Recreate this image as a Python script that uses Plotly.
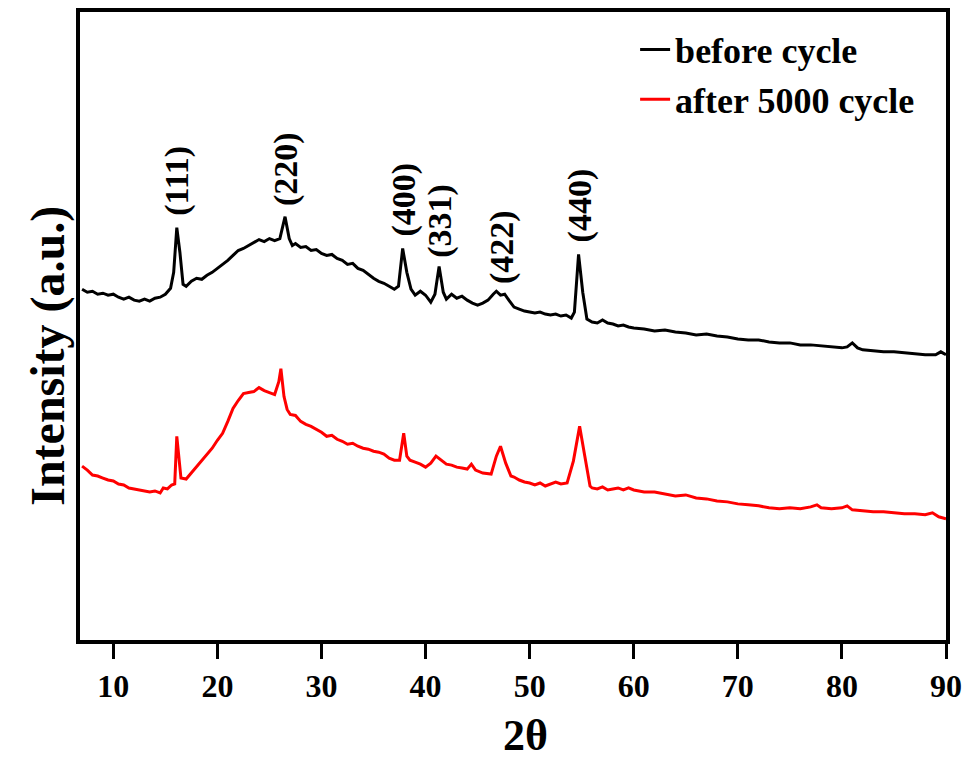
import plotly.graph_objects as go

# ---- data (2θ in degrees, intensity in arbitrary units) ----
before_x = [7.0, 7.5, 8.0, 8.5, 9.0, 9.5, 10.0, 10.5, 11.0, 11.5, 12.0, 12.5, 13.0, 13.5, 14.0, 14.5,
            15.0, 15.5, 15.8, 16.1, 16.4, 16.7, 17.0, 17.5, 18.0, 18.5, 19.0, 19.5, 20.0, 20.5, 21.0,
            21.5, 22.0, 22.5, 23.0, 23.5, 24.0, 24.5, 25.0, 25.5, 26.0, 26.5, 26.9, 27.2, 27.5, 28.0,
            28.5, 29.0, 29.5, 30.0, 30.5, 31.0, 31.5, 32.0, 32.5, 33.0, 33.5, 34.0, 34.5, 35.0, 35.5,
            36.0, 36.5, 37.0, 37.4, 37.8, 38.2, 38.6, 39.0, 39.5, 40.0, 40.5, 40.9, 41.3, 41.7, 42.0,
            42.5, 43.0, 43.5, 44.0, 44.5, 45.0, 45.5, 46.0, 46.5, 46.8, 47.2, 47.6, 48.0, 48.5, 49.0,
            49.5, 50.0, 50.5, 51.0, 51.5, 52.0, 52.5, 53.0, 53.5, 54.0, 54.3, 54.7, 55.1, 55.5, 56.0,
            56.5, 57.0, 57.5, 58.0, 58.5, 59.0, 59.5, 60.0, 61, 62, 63, 64, 65, 66, 67, 68, 69, 70,
            71, 72, 73, 74, 75, 76, 77, 78, 79, 80, 80.5, 81.0, 81.5, 82, 83, 84, 85, 86, 87, 88, 89,
            89.5, 90]
before_y = [353, 350, 351, 348, 349, 347, 348, 345, 343, 345, 342, 341, 343, 341, 344, 345,
            348, 354, 370, 415, 390, 358, 356, 361, 364, 363, 367, 370, 374, 378, 382,
            387, 392, 394, 397, 400, 403, 401, 404, 402, 404, 426, 404, 397, 399, 395,
            396, 392, 393, 389, 387, 388, 384, 382, 378, 379, 374, 372, 368, 364, 361,
            359, 356, 353, 356, 394, 370, 353, 347, 351, 347, 340, 348, 376, 350, 343,
            348, 344, 346, 342, 339, 337, 339, 342, 348, 351, 347, 348, 342, 335, 333,
            331, 330, 329, 330, 328, 327, 328, 326, 327, 324, 330, 388, 350, 323, 320,
            319, 322, 319, 318, 316, 317, 315, 314, 313, 311, 312, 310, 309, 307, 308, 306, 305, 303,
            302, 302, 300, 299, 299, 297, 297, 296, 295, 294, 295, 299, 294, 292, 291, 290, 290, 289,
            288, 287, 287, 290, 287]

after_x = [7.0, 7.5, 8.0, 8.5, 9.0, 9.5, 10.0, 10.5, 11.0, 11.5, 12.0, 12.5, 13.0, 13.5, 14.0, 14.5,
           14.8, 15.2, 15.6, 15.9, 16.1, 16.3, 16.5, 17.0, 17.5, 18.0, 18.5, 19.0, 19.5, 20.0, 20.5,
           21.0, 21.5, 22.0, 22.5, 23.0, 23.5, 24.0, 24.5, 25.0, 25.5, 25.9, 26.1, 26.4, 26.7, 27.0,
           27.5, 28.0, 28.5, 29.0, 29.5, 30.0, 30.5, 31.0, 31.5, 32.0, 32.5, 33.0, 33.5, 34.0, 34.5,
           35.0, 35.5, 36.0, 36.5, 37.0, 37.5, 37.9, 38.2, 38.5, 39.0, 39.5, 40.0, 40.5, 41.0, 41.5,
           42.0, 42.5, 43.0, 43.5, 44.0, 44.4, 44.8, 45.5, 46.3, 46.8, 47.2, 47.7, 48.2, 48.5, 49.0,
           49.5, 50.0, 50.5, 51.0, 51.5, 52.0, 52.5, 53.0, 53.6, 54.2, 54.8, 55.3, 55.8, 56.0, 56.5,
           57.0, 57.5, 58.0, 58.5, 59.0, 59.5, 60.0, 61, 62, 63, 64, 65, 66, 67, 68, 69, 70, 71, 72,
           73, 74, 75, 76, 77, 77.6, 78, 79, 80, 80.5, 81, 82, 83, 84, 85, 86, 87, 88, 88.7, 89.3, 90]
after_y = [175, 171, 166, 165, 163, 161, 160, 157, 156, 153, 152, 151, 150, 149, 150, 148,
           153, 152, 156, 157, 205, 180, 163, 162, 168, 175, 180, 187, 193, 201, 208,
           220, 233, 241, 248, 249, 250, 254, 251, 249, 247, 260, 273, 245, 232, 227,
           226, 220, 217, 215, 212, 209, 205, 206, 202, 200, 197, 198, 195, 193, 192,
           190, 189, 187, 183, 181, 181, 208, 185, 181, 179, 177, 174, 178, 185, 181,
           177, 176, 174, 173, 172, 177, 171, 168, 167, 185, 195, 178, 165, 164, 161,
           159, 158, 156, 158, 155, 157, 159, 157, 158, 180, 215, 185, 155, 153, 152,
           154, 151, 152, 153, 151, 153, 151, 149, 149, 147, 145, 146, 143, 142, 140, 139, 137, 136, 135,
           133, 132, 133, 132, 134, 136, 133, 132, 133, 135, 131, 130, 129, 129, 128, 127, 127, 126, 128, 124, 122]

peak_labels = ["(111)", "(220)", "(400)", "(331)", "(422)", "(440)"]
peak_label_x = [16.1, 26.6, 37.9, 41.4, 47.3, 54.8]
peak_label_y = [462, 474, 443, 422, 395, 437]

x_ticks = [10, 20, 30, 40, 50, 60, 70, 80, 90]

FONT = "Liberation Serif"

fig = go.Figure()
fig.add_trace(go.Scatter(x=before_x, y=before_y, mode="lines", name="<b>before cycle</b>",
                         line=dict(color="#000000", width=3)))
fig.add_trace(go.Scatter(x=after_x, y=after_y, mode="lines", name="<b>after 5000 cycle</b>",
                         line=dict(color="#ff0000", width=3)))

for t, px, py in zip(peak_labels, peak_label_x, peak_label_y):
    fig.add_annotation(x=px, y=py, xref="x", yref="y", text="<b>%s</b>" % t, textangle=-90,
                       xanchor="center", yanchor="middle",
                       showarrow=False, font=dict(family=FONT, size=34, color="#000000"))

# axis titles
fig.add_annotation(x=-0.037, y=0.4525, xref="paper", yref="paper", text="<b>Intensity (a.u.)</b>",
                   textangle=-90, xanchor="center", yanchor="middle",
                   showarrow=False, font=dict(family=FONT, size=48, color="#000000"))
fig.add_annotation(x=0.515, y=-0.152, xref="paper", yref="paper", text="<b>2θ</b>",
                   xanchor="center", yanchor="middle",
                   showarrow=False, font=dict(family=FONT, size=44, color="#000000"))

fig.update_layout(
    width=973, height=761,
    margin=dict(l=80, r=27, t=8, b=121),
    paper_bgcolor="white", plot_bgcolor="white",
    font=dict(family=FONT, color="#000000"),
    showlegend=True,
    legend=dict(x=0.641, y=0.988, xanchor="left", yanchor="top",
                font=dict(family=FONT, size=36, color="#000000"),
                bgcolor="rgba(0,0,0,0)", tracegroupgap=0),
    xaxis=dict(range=[6.8, 90], tickvals=x_ticks, ticktext=["<b>%d</b>" % v for v in x_ticks],
               ticks="outside", ticklen=15, tickwidth=3, tickcolor="#000000",
               showline=True, linewidth=4, linecolor="#000000", mirror=True,
               showgrid=False, zeroline=False,
               tickfont=dict(family=FONT, size=32, color="#000000")),
    yaxis=dict(range=[0, 632], showticklabels=False, ticks="",
               showline=True, linewidth=4, linecolor="#000000", mirror=True,
               showgrid=False, zeroline=False),
)

fig.write_html("out.html")
